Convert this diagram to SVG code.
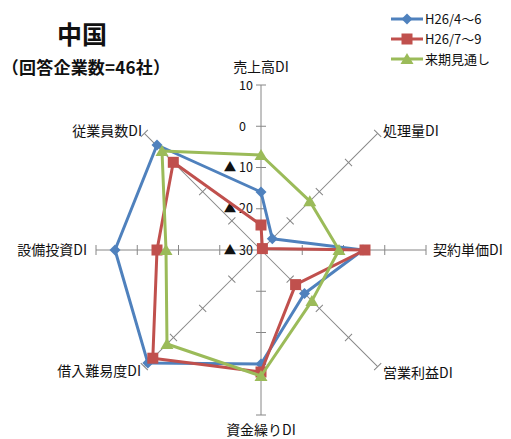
<svg xmlns="http://www.w3.org/2000/svg" xmlns:xlink="http://www.w3.org/1999/xlink" width="511" height="439" viewBox="0 0 511 439">
<style>
text{font-family:"Noto Sans CJK JP","Liberation Sans",sans-serif;fill:#111}
.ax{stroke:#868686;stroke-width:1;fill:none}
.lbl{font-size:14px}
.tk{font-size:12.5px;text-anchor:end}
.s1{stroke:#4F81BD;stroke-width:3;fill:none;stroke-linejoin:round}
.s2{stroke:#C0504D;stroke-width:3;fill:none;stroke-linejoin:round}
.s3{stroke:#9BBB59;stroke-width:3;fill:none;stroke-linejoin:round}
.leg{font-size:13px}
</style>
<defs>
<g id="axis">
<line class="ax" x1="261" y1="250" x2="261" y2="85"/>
<path class="ax" d="M256 208.75H266M256 167.5H266M256 126.25H266M256 85H266"/>
</g>
<path id="dia" d="M0 -5.5L5.5 0L0 5.5L-5.5 0Z" fill="#4F81BD"/>
<rect id="sq" x="-5.5" y="-5.5" width="11" height="11" fill="#C0504D"/>
<path id="tri" d="M0 -6L6.5 5L-6.5 5Z" fill="#9BBB59"/>
</defs>
<g id="title">
<text x="82" y="44" font-size="25" font-weight="bold" text-anchor="middle">中国</text>
<text x="86" y="74" font-size="17" font-weight="bold" letter-spacing="0.2" text-anchor="middle">（回答企業数=46社）</text>
</g>
<g id="axes">
<use xlink:href="#axis"/>
<use xlink:href="#axis" transform="rotate(45 261 250)"/>
<use xlink:href="#axis" transform="rotate(90 261 250)"/>
<use xlink:href="#axis" transform="rotate(135 261 250)"/>
<use xlink:href="#axis" transform="rotate(180 261 250)"/>
<use xlink:href="#axis" transform="rotate(225 261 250)"/>
<use xlink:href="#axis" transform="rotate(270 261 250)"/>
<use xlink:href="#axis" transform="rotate(315 261 250)"/>
</g>
<g id="ticklabels">
<text class="tk" x="253" y="90">10</text>
<text class="tk" x="246" y="131">0</text>
<text class="tk" x="253" y="172">▲ 10</text>
<text class="tk" x="253" y="213">▲ 20</text>
<text class="tk" x="253" y="255">▲ 30</text>
</g>
<g id="axislabels">
<text id="uriage" class="lbl" x="261" y="72" text-anchor="middle">売上高DI</text>
<text id="shori" class="lbl" x="383" y="136">処理量DI</text>
<text id="keiyaku" class="lbl" x="433" y="255">契約単価DI</text>
<text id="eigyo" class="lbl" x="383" y="378">営業利益DI</text>
<text id="shikin" class="lbl" x="261" y="435" text-anchor="middle">資金繰りDI</text>
<text id="kariire" class="lbl" x="141" y="376" text-anchor="end">借入難易度DI</text>
<text id="setsubi" class="lbl" x="87" y="255" text-anchor="end">設備投資DI</text>
<text id="jugyo" class="lbl" x="142" y="136" text-anchor="end">従業員数DI</text>
</g>
<g id="series">
<g id="series1">
<polygon class="s1" points="261,192 272.3,238.7 363,250 304.5,293.5 261,364 147.9,363.1 115,250 157,145"/>
<use xlink:href="#dia" x="261" y="192"/><use xlink:href="#dia" x="272.3" y="238.7"/><use xlink:href="#dia" x="363" y="250"/><use xlink:href="#dia" x="304.5" y="293.5"/><use xlink:href="#dia" x="261" y="364"/><use xlink:href="#dia" x="147.9" y="363.1"/><use xlink:href="#dia" x="115" y="250"/><use xlink:href="#dia" x="157" y="145"/>
</g>
<g id="series2">
<polygon class="s2" points="261,225 262.4,248.6 365,250 295.6,284.6 261,372 152.8,358.2 157,250 173.3,162.3"/>
<use xlink:href="#sq" x="261" y="225"/><use xlink:href="#sq" x="262.4" y="248.6"/><use xlink:href="#sq" x="365" y="250"/><use xlink:href="#sq" x="295.6" y="284.6"/><use xlink:href="#sq" x="261" y="372"/><use xlink:href="#sq" x="152.8" y="358.2"/><use xlink:href="#sq" x="157" y="250"/><use xlink:href="#sq" x="173.3" y="162.3"/>
</g>
<g id="series3">
<polygon class="s3" points="261,155 309.8,201.2 339,250 311.9,300.9 261,376 167,344 166,250 162,151"/>
<use xlink:href="#tri" x="261" y="155"/><use xlink:href="#tri" x="309.8" y="201.2"/><use xlink:href="#tri" x="339" y="250"/><use xlink:href="#tri" x="311.9" y="300.9"/><use xlink:href="#tri" x="261" y="376"/><use xlink:href="#tri" x="167" y="344"/><use xlink:href="#tri" x="166" y="250"/><use xlink:href="#tri" x="162" y="151"/>
</g>
</g>
<g id="legend">
<line class="s1" x1="391" y1="19" x2="423" y2="19"/><use xlink:href="#dia" x="407" y="19"/>
<text class="leg" x="425" y="24">H26/4～6</text>
<line class="s2" x1="391" y1="39" x2="423" y2="39"/><use xlink:href="#sq" x="407" y="39"/>
<text class="leg" x="425" y="44">H26/7～9</text>
<line class="s3" x1="391" y1="59" x2="423" y2="59"/><use xlink:href="#tri" x="407" y="59"/>
<text class="leg" x="425" y="64">来期見通し</text>
</g>
</svg>
